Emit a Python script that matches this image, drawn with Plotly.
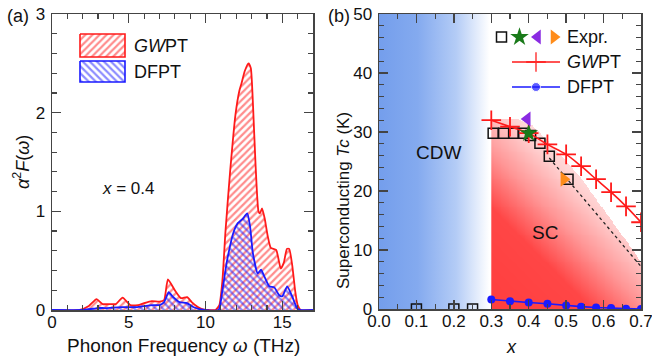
import numpy as np
import plotly.graph_objects as go

# ---------------- Panel (a): Eliashberg function, x = 0.4 ----------------
omega_gwpt = [0.0, 1.8, 2.4, 2.9, 3.3, 3.8, 4.15, 4.6, 5.1, 5.6, 6.0, 6.5, 7.0, 7.3, 7.55,
              8.0, 8.4, 8.8, 9.1, 9.5, 9.9, 10.2, 10.65, 10.9, 11.1, 11.3, 11.6, 11.95,
              12.2, 12.35, 12.55, 12.8, 12.95, 13.1, 13.25, 13.45, 13.55, 13.68, 13.85,
              14.05, 14.25, 14.6, 14.9, 15.1, 15.3, 15.45, 15.65, 15.85, 16.0, 16.2, 17.0]
a2f_gwpt = [0.0, 0.0, 0.04, 0.11, 0.06, 0.06, 0.06, 0.125, 0.05, 0.05, 0.07, 0.09, 0.085, 0.1, 0.31,
            0.2, 0.12, 0.13, 0.08, 0.03, 0.005, 0.0, 0.0, 0.05, 0.3, 0.8, 1.4, 1.98,
            2.22, 2.3, 2.42, 2.5, 2.45, 2.05, 1.5, 1.0, 0.98, 1.03, 0.93,
            0.75, 0.63, 0.61, 0.42, 0.48, 0.62, 0.62, 0.45, 0.18, 0.05, 0.0, 0.0]

omega_dfpt = [0.0, 2.0, 2.5, 3.0, 3.5, 4.5, 5.5, 6.0, 6.5, 7.0, 7.3, 7.6, 7.9, 8.3, 8.8, 9.2,
              9.6, 10.0, 10.85, 11.1, 11.4, 11.85, 12.1, 12.4, 12.72, 12.9, 13.08, 13.4,
              13.62, 13.83, 14.15, 14.47, 14.8, 15.0, 15.32, 15.64, 15.96, 16.2, 17.0]
a2f_dfpt = [0.0, 0.0, 0.01, 0.02, 0.02, 0.03, 0.03, 0.04, 0.05, 0.05, 0.08, 0.18, 0.13, 0.08, 0.07, 0.03,
            0.01, 0.0, 0.0, 0.2, 0.5, 0.8, 0.88, 0.92, 0.98, 0.85, 0.58, 0.37,
            0.41, 0.34, 0.24, 0.23, 0.15, 0.14, 0.24, 0.14, 0.02, 0.0, 0.0]

# ---------------- Panel (b): phase diagram ----------------
x_gwpt = [0.30, 0.35, 0.40, 0.45, 0.50, 0.54, 0.58, 0.62, 0.66, 0.70]
tc_gwpt = [32.0, 30.9, 29.8, 27.9, 26.2, 24.2, 22.0, 19.8, 17.4, 14.7]
x_dfpt = [0.30, 0.35, 0.40, 0.45, 0.50, 0.54, 0.58, 0.62, 0.66, 0.70]
tc_dfpt = [1.6, 1.3, 1.1, 0.9, 0.6, 0.4, 0.25, 0.15, 0.05, 0.0]
x_expr_sq = [0.10, 0.20, 0.25, 0.305, 0.333, 0.36, 0.385, 0.405, 0.43, 0.455, 0.505]
tc_expr_sq = [0.0, 0.0, 0.0, 29.8, 29.8, 29.8, 29.8, 29.4, 28.1, 25.9, 22.0]
x_expr_star = [0.40]
tc_expr_star = [29.8]
x_expr_ltri = [0.396]
tc_expr_ltri = [32.2]
x_expr_rtri = [0.494]
tc_expr_rtri = [22.0]
guide_x = [0.455, 0.70]
guide_y = [25.6, 7.2]
cdw_x = [0.0, 0.3]
sc_poly_x = [0.30, 0.30, 0.37, 0.41, 0.45, 0.49, 0.53, 0.70, 0.70]
sc_poly_y = [0.0, 32.3, 32.3, 31.0, 28.6, 25.6, 23.0, 8.0, 0.0]

FONT = "Liberation Sans, Arial, Helvetica, sans-serif"
W, H = 652, 360
AXC = "#444444"
RED = "#ff1a1a"
BLUE = "#1a1aff"

fig = go.Figure()

# ---- panel (a) traces
fig.add_trace(go.Scatter(
    x=omega_gwpt, y=a2f_gwpt, mode="lines", fill="tozeroy",
    line=dict(color=RED, width=1.8, shape="spline", smoothing=0.5),
    fillcolor="rgba(0,0,0,0)",
    fillpattern=dict(shape="/", fgcolor=RED, bgcolor="rgba(255,255,255,0)", size=5, solidity=0.45),
    xaxis="x", yaxis="y", showlegend=False, hoverinfo="skip"))
fig.add_trace(go.Scatter(
    x=omega_dfpt, y=a2f_dfpt, mode="lines", fill="tozeroy",
    line=dict(color=BLUE, width=1.8, shape="spline", smoothing=0.5),
    fillcolor="rgba(0,0,0,0)",
    fillpattern=dict(shape="\\", fgcolor=BLUE, bgcolor="rgba(255,255,255,0)", size=5, solidity=0.45),
    xaxis="x", yaxis="y", showlegend=False, hoverinfo="skip"))

# ---- panel (b) background regions
fig.add_trace(go.Scatter(
    x=[cdw_x[0], cdw_x[1], cdw_x[1], cdw_x[0], cdw_x[0]], y=[0, 0, 50, 50, 0],
    mode="lines", line=dict(width=0), fill="toself",
    fillgradient=dict(type="horizontal", start=cdw_x[0], stop=cdw_x[1] - 0.005,
                      colorscale=[[0, "rgb(116,158,236)"], [0.35, "rgb(132,170,239)"],
                                  [0.7, "rgb(180,204,246)"], [1, "rgb(255,255,255)"]]),
    xaxis="x2", yaxis="y2", showlegend=False, hoverinfo="skip"))

# red SC region as masked heatmap (diagonal gradient)
gx = np.linspace(0.3, 0.7, 170)
gy = np.linspace(0.0, 32.5, 200)
GX, GY = np.meshgrid(gx, gy)
px_, py_ = np.array(sc_poly_x), np.array(sc_poly_y)
inside = np.zeros_like(GX, dtype=bool)
n = len(px_)
j = n - 1
for i in range(n):
    xi, yi, xj, yj = px_[i], py_[i], px_[j], py_[j]
    cond = ((yi > GY) != (yj > GY)) & (GX < (xj - xi) * (GY - yi) / ((yj - yi) + 1e-12) + xi)
    inside ^= cond
    j = i
inside |= (GX <= 0.3001) & (GY <= 32.3)
nx = (GX - 0.3) / 0.4
ny = GY / 32.0
u = 0.625 * nx + 0.781 * ny
Z = np.where(inside, u, np.nan)
fig.add_trace(go.Heatmap(
    x=gx, y=gy, z=Z, zmin=0, zmax=1, showscale=False, hoverinfo="skip",
    colorscale=[[0, "rgb(255,62,62)"], [0.42, "rgb(255,70,70)"], [0.65, "rgb(255,150,150)"],
                [0.85, "rgb(255,205,205)"], [1, "rgb(255,232,232)"]],
    xaxis="x2", yaxis="y2"))

fig.add_trace(go.Scatter(x=guide_x, y=guide_y, mode="lines",
                         line=dict(color="#222222", width=1.3, dash="dot"),
                         xaxis="x2", yaxis="y2", showlegend=False, hoverinfo="skip"))
fig.add_trace(go.Scatter(x=x_expr_sq, y=tc_expr_sq, mode="markers",
                         marker=dict(symbol="square-open", size=10, color="#111111", line=dict(width=1.5)),
                         xaxis="x2", yaxis="y2", showlegend=False))
fig.add_trace(go.Scatter(x=x_gwpt, y=tc_gwpt, mode="lines+markers",
                         line=dict(color=RED, width=1.6, shape="spline"),
                         marker=dict(symbol="cross-thin", size=14, color=RED, line=dict(width=1.8, color=RED)),
                         xaxis="x2", yaxis="y2", showlegend=False))
fig.add_trace(go.Scatter(x=x_dfpt, y=tc_dfpt, mode="lines+markers",
                         line=dict(color=BLUE, width=1.6),
                         marker=dict(symbol="circle", size=8, color=BLUE),
                         xaxis="x2", yaxis="y2", showlegend=False))
fig.add_trace(go.Scatter(x=x_expr_star, y=tc_expr_star, mode="markers",
                         marker=dict(symbol="star", size=14, color="#1a7a1a"),
                         xaxis="x2", yaxis="y2", showlegend=False))
fig.add_trace(go.Scatter(x=x_expr_ltri, y=tc_expr_ltri, mode="markers",
                         marker=dict(symbol="triangle-left", size=13, color="#8a2be2"),
                         xaxis="x2", yaxis="y2", showlegend=False))
fig.add_trace(go.Scatter(x=x_expr_rtri, y=tc_expr_rtri, mode="markers",
                         marker=dict(symbol="triangle-right", size=13, color="#ff8c1a"),
                         xaxis="x2", yaxis="y2", showlegend=False))

# ---- legend keys drawn on a pixel-coordinate overlay
def box(x0, x1, y0, y1):
    return [x0, x1, x1, x0, x0], [y0, y0, y1, y1, y0]

bx, by = box(80, 125, 34, 57)
fig.add_trace(go.Scatter(x=bx, y=by, mode="lines", fill="toself", line=dict(color=RED, width=1.6),
                         fillcolor="rgba(0,0,0,0)",
                         fillpattern=dict(shape="/", fgcolor=RED, bgcolor="rgba(255,255,255,0)", size=5, solidity=0.45),
                         xaxis="x3", yaxis="y3", showlegend=False, hoverinfo="skip"))
bx, by = box(80, 125, 61, 82)
fig.add_trace(go.Scatter(x=bx, y=by, mode="lines", fill="toself", line=dict(color=BLUE, width=1.6),
                         fillcolor="rgba(0,0,0,0)",
                         fillpattern=dict(shape="\\", fgcolor=BLUE, bgcolor="rgba(255,255,255,0)", size=5, solidity=0.45),
                         xaxis="x3", yaxis="y3", showlegend=False, hoverinfo="skip"))
fig.add_trace(go.Scatter(x=[501.5], y=[37], mode="markers",
                         marker=dict(symbol="square-open", size=10, color="#111111", line=dict(width=1.5)),
                         xaxis="x3", yaxis="y3", showlegend=False, hoverinfo="skip"))
fig.add_trace(go.Scatter(x=[519.5], y=[37], mode="markers", marker=dict(symbol="star", size=14, color="#1a7a1a"),
                         xaxis="x3", yaxis="y3", showlegend=False, hoverinfo="skip"))
fig.add_trace(go.Scatter(x=[537.5], y=[37], mode="markers", marker=dict(symbol="triangle-left", size=13, color="#8a2be2"),
                         xaxis="x3", yaxis="y3", showlegend=False, hoverinfo="skip"))
fig.add_trace(go.Scatter(x=[554], y=[37], mode="markers", marker=dict(symbol="triangle-right", size=13, color="#ff8c1a"),
                         xaxis="x3", yaxis="y3", showlegend=False, hoverinfo="skip"))
fig.add_trace(go.Scatter(x=[512, 536, 560], y=[62, 62, 62], mode="lines+markers", line=dict(color=RED, width=1.6),
                         marker=dict(symbol="cross-thin", size=[0, 14, 0], color=RED, line=dict(width=1.8, color=RED)),
                         xaxis="x3", yaxis="y3", showlegend=False, hoverinfo="skip"))
fig.add_trace(go.Scatter(x=[512, 536, 560], y=[87, 87, 87], mode="lines+markers", line=dict(color=BLUE, width=1.6),
                         marker=dict(symbol="circle", size=[0, 9, 0], color=BLUE),
                         xaxis="x3", yaxis="y3", showlegend=False, hoverinfo="skip"))

common_axis = dict(showline=True, linecolor=AXC, linewidth=1.5, mirror="allticks",
                   ticks="inside", ticklen=9, tickwidth=1.3, tickcolor=AXC,
                   showgrid=False, zeroline=False, automargin=False,
                   tickfont=dict(family=FONT, size=17, color="#111111"))

fig.update_layout(
    width=W, height=H, autosize=False,
    margin=dict(l=0, r=0, t=0, b=0, pad=0, autoexpand=False),
    paper_bgcolor="white", plot_bgcolor="rgba(0,0,0,0)",
    showlegend=False,
    xaxis=dict(domain=[52 / W, 313 / W], range=[0, 17], tickvals=[0, 5, 10, 15], anchor="y",
               minor=dict(dtick=1, ticks="inside", ticklen=5, tickcolor=AXC, tickwidth=1.2),
               ticklabelstandoff=-4, ticklabeloverflow="allow", **common_axis),
    yaxis=dict(domain=[1 - 310 / H, 1 - 14 / H], range=[0, 3], tickvals=[0, 1, 2, 3], anchor="x",
               minor=dict(dtick=0.2, ticks="inside", ticklen=5, tickcolor=AXC, tickwidth=1.2),
               ticklabelstandoff=2, ticklabeloverflow="allow", **common_axis),
    xaxis2=dict(domain=[379 / W, 641 / W], range=[0, 0.7], tickvals=[0, 0.1, 0.2, 0.3, 0.4, 0.5, 0.6, 0.7],
                tickformat=".1f", anchor="y2",
                minor=dict(dtick=0.05, ticks="inside", ticklen=5, tickcolor=AXC, tickwidth=1.2),
                ticklabelstandoff=-4, ticklabeloverflow="allow", **common_axis),
    yaxis2=dict(domain=[1 - 309 / H, 1 - 14 / H], range=[0, 50], tickvals=[0, 10, 20, 30, 40, 50], anchor="x2",
                minor=dict(dtick=2, ticks="inside", ticklen=5, tickcolor=AXC, tickwidth=1.2),
                ticklabelstandoff=2, ticklabeloverflow="allow", **common_axis),
    xaxis3=dict(domain=[0, 1], range=[0, W], visible=False, anchor="y3", fixedrange=True, automargin=False),
    yaxis3=dict(domain=[0, 1], range=[H, 0], visible=False, anchor="x3", fixedrange=True, automargin=False),
)

def ann(text, x, y, size=18, xanchor="center", yanchor="middle", angle=0):
    fig.add_annotation(text=text, x=x / W, y=1 - y / H, xref="paper", yref="paper",
                       xanchor=xanchor, yanchor=yanchor, showarrow=False, textangle=angle,
                       font=dict(family=FONT, size=size, color="#111111"))

ann("(a)", 18, 16, size=18)
ann("(b)", 339, 16, size=18)
ann("Phonon Frequency <i>ω</i> (THz)", 183, 345, size=19)
ann("<i>α</i><sup>2</sup><i>F</i>(<i>ω</i>)", 22, 162, size=18, angle=-90)
ann("<i>x</i> = 0.4", 100, 188, size=17, xanchor="left")
ann("<i>GW</i>PT", 132, 46, size=18, xanchor="left")
ann("DFPT", 132, 72, size=18, xanchor="left")
ann("Superconducting <i>Tc</i> (K)", 343, 201, size=17, angle=-90)
ann("<i>x</i>", 511, 347, size=18)
ann("CDW", 438, 152, size=19)
ann("SC", 545, 232, size=19)
ann("Expr.", 565, 37, size=18, xanchor="left")
ann("<i>GW</i>PT", 565, 62, size=18, xanchor="left")
ann("DFPT", 565, 87, size=18, xanchor="left")

fig.write_html("out.html", config={"displayModeBar": False, "staticPlot": True},
               post_script="document.body.style.margin='0px';document.body.style.overflow='hidden';")
